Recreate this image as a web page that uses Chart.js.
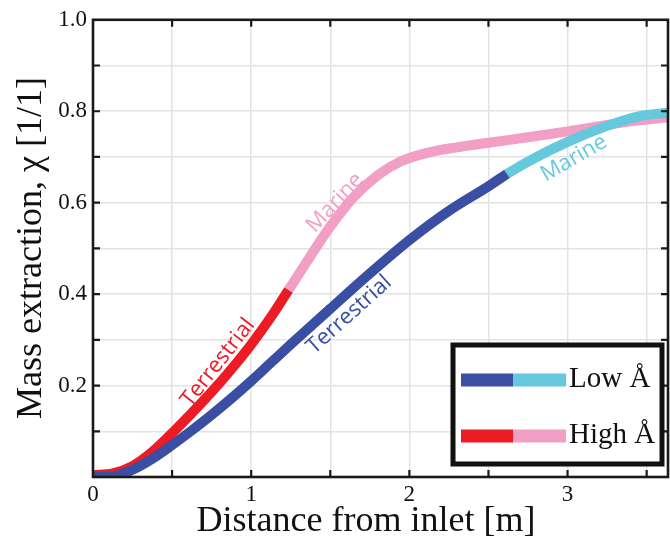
<!DOCTYPE html>
<html>
<head>
<meta charset="utf-8">
<script src="https://cdn.jsdelivr.net/npm/chart.js@4.4.1/dist/chart.umd.min.js"></script>
<style>
  html, body { margin: 0; padding: 0; background: #ffffff; }
  #wrap { width: 670px; height: 536px; }
</style>
</head>
<body>
<div id="wrap"><canvas id="c" width="670" height="536"></canvas></div>
<script>
// ---- data ----
const xMin = 0, xMax = 3.635;
const yMin = 0, yMax = 1.0;

// High Å : Terrestrial (red) then Marine (pink)
const highTerrX = [0.0, 0.125, 0.25, 0.375, 0.5, 0.625, 0.75, 0.875, 1.0, 1.125, 1.236];
const highTerrY = [0.004, 0.008, 0.024, 0.055, 0.096, 0.140, 0.186, 0.236, 0.290, 0.350, 0.409];
const highMarX  = [1.236, 1.35, 1.5, 1.65, 1.8, 1.95, 2.1, 2.3, 2.5, 2.75, 3.0, 3.25, 3.45, 3.635];
const highMarY  = [0.409, 0.470, 0.548, 0.613, 0.660, 0.691, 0.708, 0.721, 0.731, 0.743, 0.756, 0.770, 0.780, 0.787];

// Low Å : Terrestrial (dark blue) then Marine (cyan)
const lowTerrX = [0.0, 0.1, 0.25, 0.375, 0.5, 0.625, 0.75, 0.875, 1.0, 1.125, 1.25, 1.5, 1.75, 2.0, 2.25, 2.5, 2.617];
const lowTerrY = [0.0, 0.0, 0.016, 0.040, 0.070, 0.102, 0.136, 0.172, 0.210, 0.250, 0.290, 0.368, 0.445, 0.518, 0.582, 0.636, 0.663];
const lowMarX  = [2.617, 2.75, 3.0, 3.25, 3.45, 3.635];
const lowMarY  = [0.663, 0.690, 0.733, 0.768, 0.789, 0.797];

const xTickLabels = {0: '0', 1: '1', 2: '2', 3: '3'};
const yTickLabels = {2: '0.2', 4: '0.4', 6: '0.6', 8: '0.8', 10: '1.0'};

// curve annotations: [text, x, y, angle(deg), color]
const curveLabels = [
  ['Terrestrial', 0.79, 0.250, -52, '#ed1c24'],
  ['Marine',      1.53, 0.600, -47, '#f29fc5'],
  ['Terrestrial', 1.62, 0.355, -42, '#3a4fa3'],
  ['Marine',      3.04, 0.697, -30, '#66c8dc']
];

const legendItems = [
  ['Low Å',  '#3a4fa3', '#66c8dc'],
  ['High Å', '#ed1c24', '#f29fc5']
];

const C_DBLUE = '#3a4fa3', C_CYAN = '#66c8dc', C_RED = '#ed1c24', C_PINK = '#f29fc5';

function pts(xs, ys) { return xs.map((x, i) => ({x: x, y: ys[i]})); }

function ds(xs, ys, color) {
  return {
    data: pts(xs, ys),
    borderColor: color,
    backgroundColor: color,
    borderWidth: 10,
    borderCapStyle: 'butt',
    borderJoinStyle: 'round',
    pointRadius: 0,
    cubicInterpolationMode: 'monotone',
    fill: false,
    clip: 0
  };
}

const serif = '"Liberation Serif", "Times New Roman", serif';

const framePlugin = {
  id: 'frame',
  afterDatasetsDraw(chart) {
    const {ctx, chartArea: a, scales: {x, y}} = chart;
    ctx.save();
    // curve labels
    curveLabels.forEach(([t, xv, yv, ang, col]) => {
      ctx.save();
      ctx.translate(x.getPixelForValue(xv), y.getPixelForValue(yv));
      ctx.rotate(ang * Math.PI / 180);
      ctx.font = '22px "Open Sans", sans-serif';
      ctx.fillStyle = col;
      ctx.textAlign = 'center';
      ctx.textBaseline = 'middle';
      ctx.fillText(t, 0, 0);
      ctx.restore();
    });

    // frame
    ctx.strokeStyle = '#1a1a1a';
    ctx.lineWidth = 2.6;
    ctx.strokeRect(a.left, a.top, a.right - a.left, a.bottom - a.top);
    // inward ticks
    ctx.lineWidth = 2.2;
    const tl = 7;
    for (let i = 1; i <= 9; i++) {
      const py = y.getPixelForValue(i / 10);
      ctx.beginPath();
      ctx.moveTo(a.left, py); ctx.lineTo(a.left + tl, py);
      ctx.moveTo(a.right, py); ctx.lineTo(a.right - tl, py);
      ctx.stroke();
    }
    for (let v = 0.5; v < xMax; v += 0.5) {
      const px = x.getPixelForValue(v);
      ctx.beginPath();
      ctx.moveTo(px, a.bottom); ctx.lineTo(px, a.bottom - tl);
      ctx.moveTo(px, a.top); ctx.lineTo(px, a.top + tl);
      ctx.stroke();
    }

    // axis titles
    ctx.fillStyle = '#111';
    ctx.font = '36px ' + serif;
    ctx.textAlign = 'center';
    ctx.textBaseline = 'alphabetic';
    ctx.fillText('Distance from inlet [m]', 366, 531);
    ctx.save();
    ctx.translate(41, 248);
    ctx.rotate(-Math.PI / 2);
    ctx.fillText('Mass extraction, \u03C7 [1/1]', 0, 0);
    ctx.restore();

    // legend
    const bx = a.right - 215, by = a.bottom - 132, bw = 209, bh = 119;
    ctx.fillStyle = '#ffffff';
    ctx.fillRect(bx, by, bw, bh);
    ctx.lineWidth = 5;
    ctx.strokeStyle = '#111';
    ctx.strokeRect(bx, by, bw, bh);
    legendItems.forEach(([label, c1, c2], i) => {
      const ly = by + 35 + i * 56;
      ctx.lineWidth = 13;
      ctx.lineCap = 'butt';
      ctx.strokeStyle = c1;
      ctx.beginPath(); ctx.moveTo(bx + 8, ly); ctx.lineTo(bx + 60, ly); ctx.stroke();
      ctx.strokeStyle = c2;
      ctx.beginPath(); ctx.moveTo(bx + 60, ly); ctx.lineTo(bx + 113, ly); ctx.stroke();
      ctx.fillStyle = '#111';
      ctx.font = '29px ' + serif;
      ctx.textAlign = 'left';
      ctx.textBaseline = 'alphabetic';
      ctx.fillText(label, bx + 116, ly + 7);
    });
    ctx.restore();
  }
};

new Chart(document.getElementById('c'), {
  type: 'line',
  data: {
    datasets: [
      ds(lowTerrX, lowTerrY, C_DBLUE),
      ds(lowMarX, lowMarY, C_CYAN),
      ds(highTerrX, highTerrY, C_RED),
      ds(highMarX, highMarY, C_PINK)
    ]
  },
  options: {
    responsive: false,
    animation: false,
    devicePixelRatio: 1,
    layout: { padding: { top: 19, right: 2, left: 0, bottom: 0 } },
    plugins: { legend: { display: false }, tooltip: { enabled: false } },
    scales: {
      x: {
        type: 'linear', min: xMin, max: xMax,
        afterFit(s) { s.height = 59; },
        afterBuildTicks(s) {
          const t = [];
          for (let v = 0; v <= xMax + 1e-9; v += 0.5) t.push({value: Math.round(v * 10) / 10});
          s.ticks = t;
        },
        ticks: {
          autoSkip: false, maxRotation: 0, padding: 4,
          color: '#111',
          font: { family: serif, size: 23 },
          callback: v => (xTickLabels[v] !== undefined ? xTickLabels[v] : '')
        },
        grid: { color: '#e3e3e3', lineWidth: 1.5, drawTicks: false },
        border: { display: false }
      },
      y: {
        type: 'linear', min: yMin, max: yMax,
        afterFit(s) { s.width = 93; },
        afterBuildTicks(s) {
          const t = [];
          for (let i = 0; i <= 10; i++) t.push({value: i / 10});
          s.ticks = t;
        },
        ticks: {
          autoSkip: false, padding: 6,
          color: '#111',
          font: { family: serif, size: 23 },
          callback: v => { const k = Math.round(v * 10); return yTickLabels[k] || ''; }
        },
        grid: { color: '#e3e3e3', lineWidth: 1.5, drawTicks: false },
        border: { display: false }
      }
    }
  },
  plugins: [framePlugin]
});
</script>
</body>
</html>
